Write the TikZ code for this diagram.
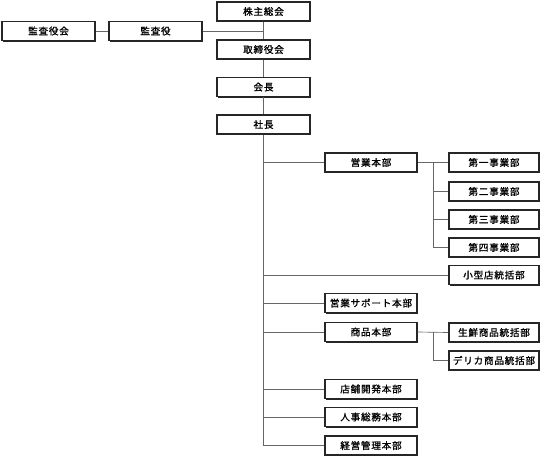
\documentclass[tikz,border=0pt]{standalone}
\usepackage{fontspec}
\newfontfamily\jpfont[FakeBold=1.2,LetterSpace=8]{Noto Sans CJK JP}
\usetikzlibrary{shadows}
\begin{document}
\begin{tikzpicture}[x=0.75pt,y=-0.75pt,
    box/.style={draw=black!85, fill=white, line width=0.8pt, minimum width=69.75pt,
      minimum height=14.25pt, inner sep=0pt, font=\jpfont\fontsize{7.2}{8}\selectfont,
      drop shadow={shadow xshift=0.9pt, shadow yshift=-0.9pt, fill=black!85, opacity=1}},
    rbox/.style={box, minimum width=67.5pt},
    link/.style={draw=black!60, line width=0.5pt}]
  \useasboundingbox (0,0) rectangle (544,457);
  % top column
  \node[box] (kabu) at (263.5,11.5) {株主総会};
  \node[box] (torishimari) at (263.5,49.5) {取締役会};
  \node[box] (kaicho) at (263.5,87) {会長};
  \node[box] (shacho) at (263.5,124.5) {社長};
  \node[box] (kansayakukai) at (48.5,31) {監査役会};
  \node[box] (kansayaku) at (155.5,31) {監査役};
  % second level
  \node[box, minimum width=69pt] (eigyo) at (371,162.5) {営業本部};
  \node[box, minimum width=69pt] (support) at (371,303) {営業サポート本部};
  \node[box, minimum width=69pt] (shohin) at (371,332) {商品本部};
  \node[box, minimum width=69pt] (tenpo) at (371,389) {店舗開発本部};
  \node[box, minimum width=69pt] (jinji) at (371,417) {人事総務本部};
  \node[box, minimum width=69pt] (keiei) at (371,445.5) {経営管理本部};
  % right column
  \node[rbox] (dai1) at (494,162.5) {第一事業部};
  \node[rbox] (dai2) at (494,191.5) {第二事業部};
  \node[rbox] (dai3) at (494,219.5) {第三事業部};
  \node[rbox] (dai4) at (494,247.5) {第四事業部};
  \node[rbox] (kogata) at (494,275) {小型店統括部};
  \node[rbox] (sengyo) at (494,332.5) {生鮮商品統括部};
  \node[rbox] (delica) at (494,360.5) {デリカ商品統括部};

  \coordinate (kj) at (kabu.south |- kansayaku);
  \draw[link] (kabu) -- (torishimari);
  \draw[link] (torishimari) -- (kaicho);
  \draw[link] (kaicho) -- (shacho);
  \draw[link] (kansayakukai) -- (kansayaku);
  \draw[link] (kansayaku) -- (kj);
  % trunk
  \draw[link] (shacho.south) -- (shacho.south |- keiei);
  \foreach \n in {eigyo,support,shohin,tenpo,jinji,keiei,kogata}
    \draw[link] (shacho.south |- \n) -- (\n.west);
  % sub branches
  \path (eigyo.east) -- (dai1.west) coordinate[midway] (ej);
  \draw[link] (eigyo) -- (dai1);
  \draw[link] (ej) |- (dai4.west);
  \foreach \n in {dai2,dai3}
    \draw[link] (ej |- \n) -- (\n.west);
  \path (shohin.east) -- (sengyo.west) coordinate[midway] (sj);
  \draw[link] (shohin.east) -- (sengyo.west);
  \draw[link] (sj) |- (delica.west);
\end{tikzpicture}
\end{document}
